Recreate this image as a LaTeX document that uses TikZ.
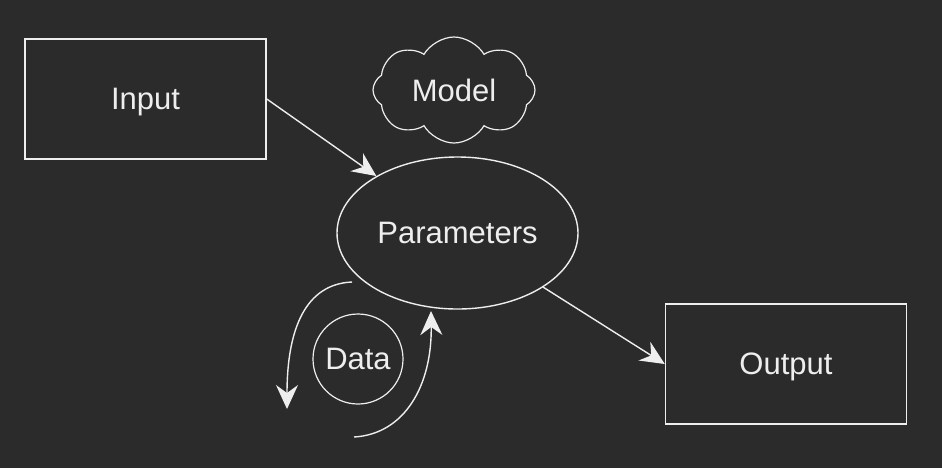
\documentclass[tikz,border=0pt]{standalone}
\usepackage{fontspec}
\setmainfont{Liberation Sans}
\usepackage{tikz}
\usetikzlibrary{positioning,calc,shapes.geometric,shapes.symbols,arrows.meta}
\definecolor{DiagBack}{HTML}{2B2B2B}
\definecolor{DiagLine}{HTML}{EEEEEE}

\tikzset{
  box/.style={draw=DiagLine, line width=0.75pt, minimum width=120.5pt, minimum height=60pt},
  flow/.style={draw=DiagLine, line width=0.7pt, -{Stealth[length=12pt,width=11pt,inset=4pt]}},
}

\begin{document}
\begin{tikzpicture}[x=0.5pt, y=-0.5pt, text=DiagLine,
    font=\fontsize{15.5}{18}\selectfont, every node/.style={text depth=0pt}]
        % Background
        \fill[DiagBack] (0,0) rectangle (942,468);
        \useasboundingbox (0,0) rectangle (942,468);

        % Nodes
        \node[box] (input) at (145.5,99) {Input};
        \node[draw=DiagLine, line width=0.6pt, cloud, cloud puffs=8, cloud puff arc=120,
              aspect=1.55, minimum width=81pt, minimum height=53pt, inner sep=0pt] (model) at (454,90) {Model};
        \node[draw=DiagLine, line width=0.7pt, ellipse, minimum width=120.5pt, minimum height=76pt,
              inner sep=0pt] (params) at (457.5,233) {Parameters};
        \node[box] (output) at (786,364) {Output};
        \node[draw=DiagLine, line width=0.6pt, circle, minimum size=45pt, inner sep=0pt] (data) at (358,359) {Data};

        % Loop ends
        \coordinate (loopA) at (352,282);
        \coordinate (loopB) at (287,409);
        \coordinate (loopC) at (354,437);
        \coordinate (loopD) at (431,311);

        % Connectors
        \draw[flow] (input.east) -- (params);
        \draw[flow] (params) -- (output.west);
        \draw[flow] (loopA) .. controls (305,284) and (287,330) .. (loopB);
        \draw[flow] (loopC) .. controls (405,434) and (432,385) .. (loopD);
      \end{tikzpicture}
\end{document}
